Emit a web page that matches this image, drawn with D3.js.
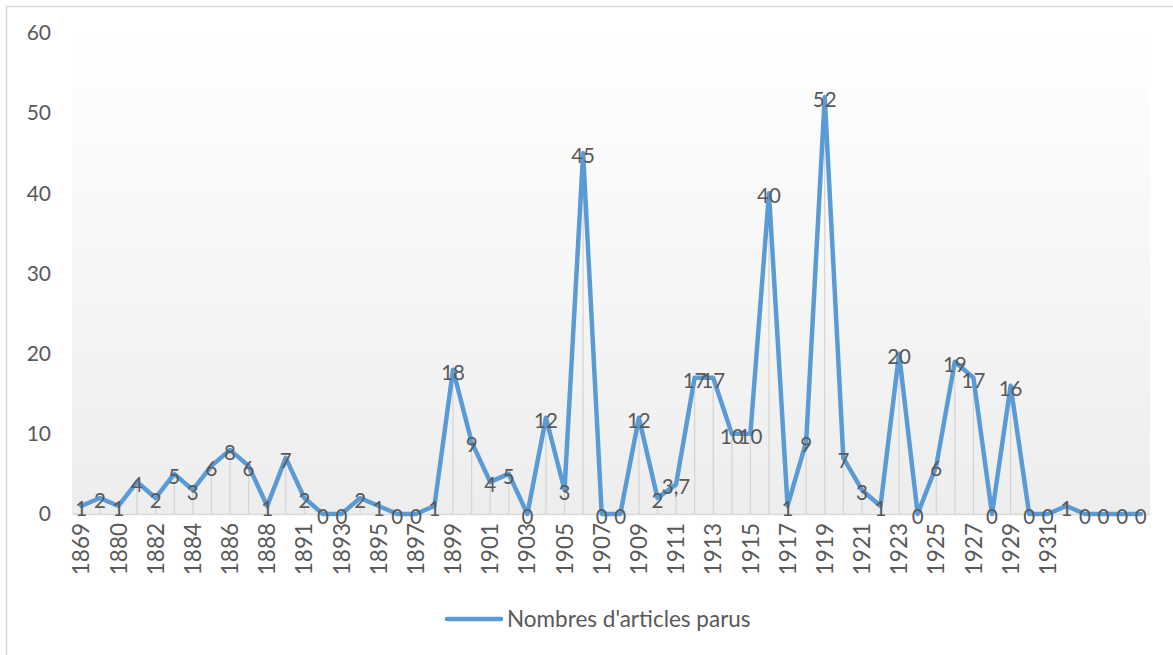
<!DOCTYPE html>
<html>
<head>
<meta charset="utf-8">
<script src="https://cdn.jsdelivr.net/npm/d3@7"></script>
<style>
  html, body { margin: 0; padding: 0; background: #ffffff; }
  svg { display: block; }
  text { font-family: Lato, "Open Sans", sans-serif; fill: #595959; }
</style>
</head>
<body>
<svg id="chart" width="1173" height="655"></svg>
<script>
// Years on the category axis (blank entries are empty categories)
const years = [
  "1869", "1870", "1880", "1881", "1882", "1883", "1884", "1885", "1886", "1887",
  "1888", "1889", "1891", "1892", "1893", "1894", "1895", "1896", "1897", "1898",
  "1899", "1900", "1901", "1902", "1903", "1904", "1905", "1906", "1907", "1908",
  "1909", "1910", "1911", "1912", "1913", "1914", "1915", "1916", "1917", "1918",
  "1919", "1920", "1921", "1922", "1923", "1924", "1925", "1926", "1927", "1928",
  "1929", "1930", "1931", "1932", "", "", "", ""
];

// Number of articles published each year
const articles = [
  1, 2, 1, 4, 2, 5, 3, 6, 8, 6,
  1, 7, 2, 0, 0, 2, 1, 0, 0, 1,
  18, 9, 4, 5, 0, 12, 3, 45, 0, 0,
  12, 2, 3.7, 17, 17, 10, 10, 40, 1, 9,
  52, 7, 3, 1, 20, 0, 6, 19, 17, 0,
  16, 0, 0, 1, 0, 0, 0, 0
];

const yTicks = [0, 10, 20, 30, 40, 50, 60];
const seriesName = "Nombres d'articles parus";

const svg = d3.select("#chart");
const plot = { left: 72, right: 1150, top: 33, bottom: 514 };
const lineColor = "#5b9bd5";

const x = d3.scaleBand()
  .domain(d3.range(years.length))
  .range([plot.left, plot.right]);
const y = d3.scaleLinear()
  .domain([0, 60])
  .range([plot.bottom, plot.top]);
const cx = i => x(i) + x.bandwidth() / 2;

// Outer chart frame
svg.append("rect")
  .attr("x", 6.5).attr("y", 6.5)
  .attr("width", 1200).attr("height", 700)
  .attr("fill", "none")
  .attr("stroke", "#d9d9d9")
  .attr("stroke-width", 1.5);

// Plot area background gradient
const defs = svg.append("defs");
const grad = defs.append("linearGradient")
  .attr("id", "plotBg")
  .attr("x1", 0).attr("y1", 0).attr("x2", 0).attr("y2", 1);
grad.append("stop").attr("offset", "0%").attr("stop-color", "#ffffff");
grad.append("stop").attr("offset", "100%").attr("stop-color", "#ededed");

svg.append("rect")
  .attr("x", plot.left).attr("y", plot.top)
  .attr("width", plot.right - plot.left)
  .attr("height", plot.bottom - plot.top)
  .attr("fill", "url(#plotBg)");

// Drop lines from each point to the axis
svg.append("g")
  .selectAll("line")
  .data(articles)
  .join("line")
  .attr("x1", (d, i) => cx(i)).attr("x2", (d, i) => cx(i))
  .attr("y1", d => y(d)).attr("y2", y(0))
  .attr("stroke", "#d4d4d4")
  .attr("stroke-width", 1.2);

// Category axis
const xAxis = d3.axisBottom(x)
  .tickValues(d3.range(0, years.length, 2))
  .tickFormat(i => years[i])
  .tickSize(0);
const gx = svg.append("g")
  .attr("transform", `translate(0,${plot.bottom})`)
  .call(xAxis);
gx.select(".domain").attr("stroke", "#d9d9d9").attr("stroke-width", 1.5);
gx.selectAll("text")
  .attr("transform", "rotate(-90)")
  .attr("x", -9)
  .attr("y", 0)
  .attr("dy", "0.36em")
  .style("text-anchor", "end")
  .style("font-size", "22.5px")
  .style("font-family", "Lato, sans-serif")
  .attr("fill", "#595959");

// Value axis labels
const yAxis = d3.axisLeft(y).tickValues(yTicks).tickSize(0).tickPadding(0);
const gy = svg.append("g")
  .attr("transform", "translate(51,0)")
  .call(yAxis);
gy.select(".domain").remove();
gy.selectAll("text")
  .style("font-size", "21px")
  .style("font-family", "Lato, sans-serif")
  .attr("fill", "#595959");

// Series line
const line = d3.line()
  .x((d, i) => cx(i))
  .y(d => y(d));
svg.append("path")
  .datum(articles)
  .attr("d", line)
  .attr("fill", "none")
  .attr("stroke", lineColor)
  .attr("stroke-width", 4.5)
  .attr("stroke-linejoin", "round")
  .attr("stroke-linecap", "round");

// Data labels
const fmt = d => String(d).replace(".", ",");
svg.append("g")
  .selectAll("text")
  .data(articles)
  .join("text")
  .attr("x", (d, i) => cx(i))
  .attr("y", d => y(d) + 10)
  .attr("text-anchor", "middle")
  .style("font-size", "20.5px")
  .text(fmt);

// Legend
const legend = svg.append("g").attr("transform", "translate(447,619)");
legend.append("line")
  .attr("x1", 0).attr("x2", 54)
  .attr("y1", 0).attr("y2", 0)
  .attr("stroke", lineColor)
  .attr("stroke-width", 4.5)
  .attr("stroke-linecap", "round");
legend.append("text")
  .attr("x", 60).attr("y", 0)
  .attr("dy", "0.36em")
  .style("font-size", "22.5px")
  .text(seriesName);
</script>
</body>
</html>
